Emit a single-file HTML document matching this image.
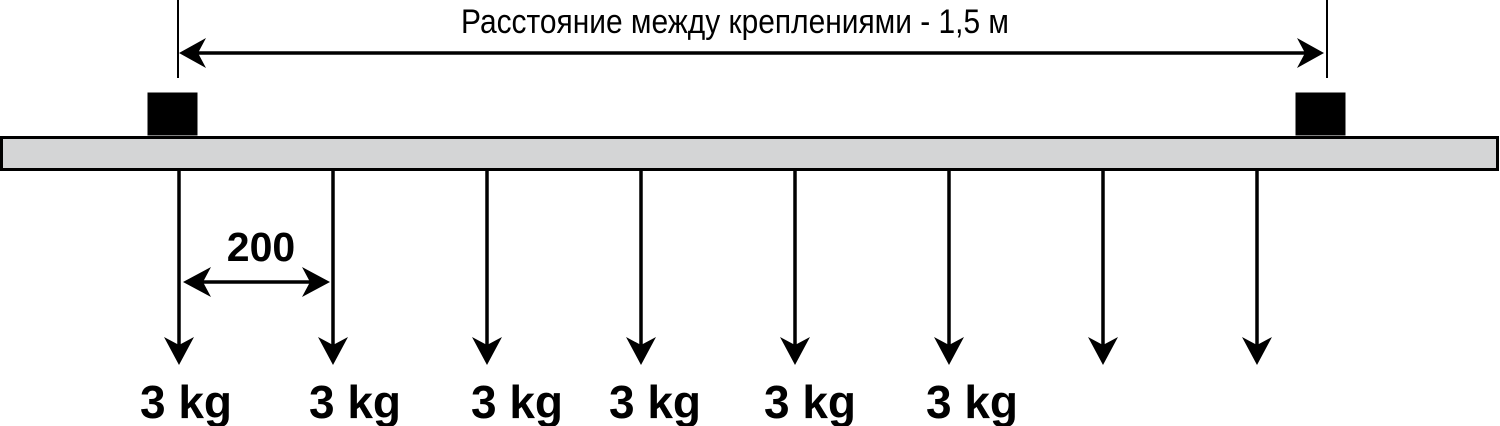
<!DOCTYPE html>
<html><head><meta charset="utf-8"><style>
html,body{margin:0;padding:0;background:#fff;width:1500px;height:426px;overflow:hidden}
svg{display:block}
</style></head><body>
<svg id="d" width="1500" height="426" viewBox="0 0 1500 426">
  <line x1="178" y1="0" x2="178" y2="78" stroke="#000" stroke-width="2"/>
  <line x1="1327" y1="0" x2="1327" y2="78" stroke="#000" stroke-width="2"/>
  <line x1="195" y1="53" x2="1310" y2="53" stroke="#000" stroke-width="3.5"/>
  <path d="M179,53 L206,38 L198,53 L206,68 Z" fill="#000"/>
  <path d="M1324,53 L1297,38 L1305,53 L1297,68 Z" fill="#000"/>
  <text x="735" y="33" text-anchor="middle" textLength="548" lengthAdjust="spacingAndGlyphs" font-family="'Liberation Sans', sans-serif" font-size="34" fill="#000">Расстояние между креплениями - 1,5 м</text>
  <rect x="147.5" y="92.5" width="50" height="43" fill="#000"/>
  <rect x="1295.5" y="92.5" width="50" height="43" fill="#000"/>
  <rect x="1.5" y="137.5" width="1496" height="32" fill="#d4d5d6" stroke="#000" stroke-width="3"/>
  <g id="loads"></g>
  <line x1="195" y1="282" x2="315" y2="282" stroke="#000" stroke-width="3.5"/>
  <path d="M183,282 L211,267 L203,282 L211,297 Z" fill="#000"/>
  <path d="M330,282 L302,267 L310,282 L302,297 Z" fill="#000"/>
  <text x="261" y="261" text-anchor="middle" font-family="'Liberation Sans', sans-serif" font-weight="bold" font-size="41" fill="#000">200</text>
</svg>
<script>
const loadX = [179, 333, 487, 641, 795, 949, 1103, 1257];
const loadLabels = ['3 kg','3 kg','3 kg','3 kg','3 kg','3 kg','',''];
const labelX = [186, 355, 517, 655, 810, 972];
const NS = 'http://www.w3.org/2000/svg';
const g = document.getElementById('loads');
loadX.forEach((x, i) => {
  const l = document.createElementNS(NS, 'line');
  l.setAttribute('x1', x); l.setAttribute('x2', x);
  l.setAttribute('y1', 170); l.setAttribute('y2', 350);
  l.setAttribute('stroke', '#000'); l.setAttribute('stroke-width', '3.5');
  
  
  g.appendChild(l);
  const p = document.createElementNS(NS, 'path');
  p.setAttribute('d', `M${x},365 L${x-15},337 L${x},345 L${x+15},337 Z`);
  p.setAttribute('fill', '#000');
  
  
  g.appendChild(p);
  if (loadLabels[i]) {
    const t = document.createElementNS(NS, 'text');
    t.setAttribute('x', labelX[i]); t.setAttribute('y', 418);
    t.setAttribute('text-anchor', 'middle');
    t.setAttribute('font-family', "'Liberation Sans', sans-serif");
    t.setAttribute('font-weight', 'bold');
    t.setAttribute('font-size', '46');
    t.textContent = loadLabels[i];
    
    
    g.appendChild(t);
  }
});
</script>
</body></html>
